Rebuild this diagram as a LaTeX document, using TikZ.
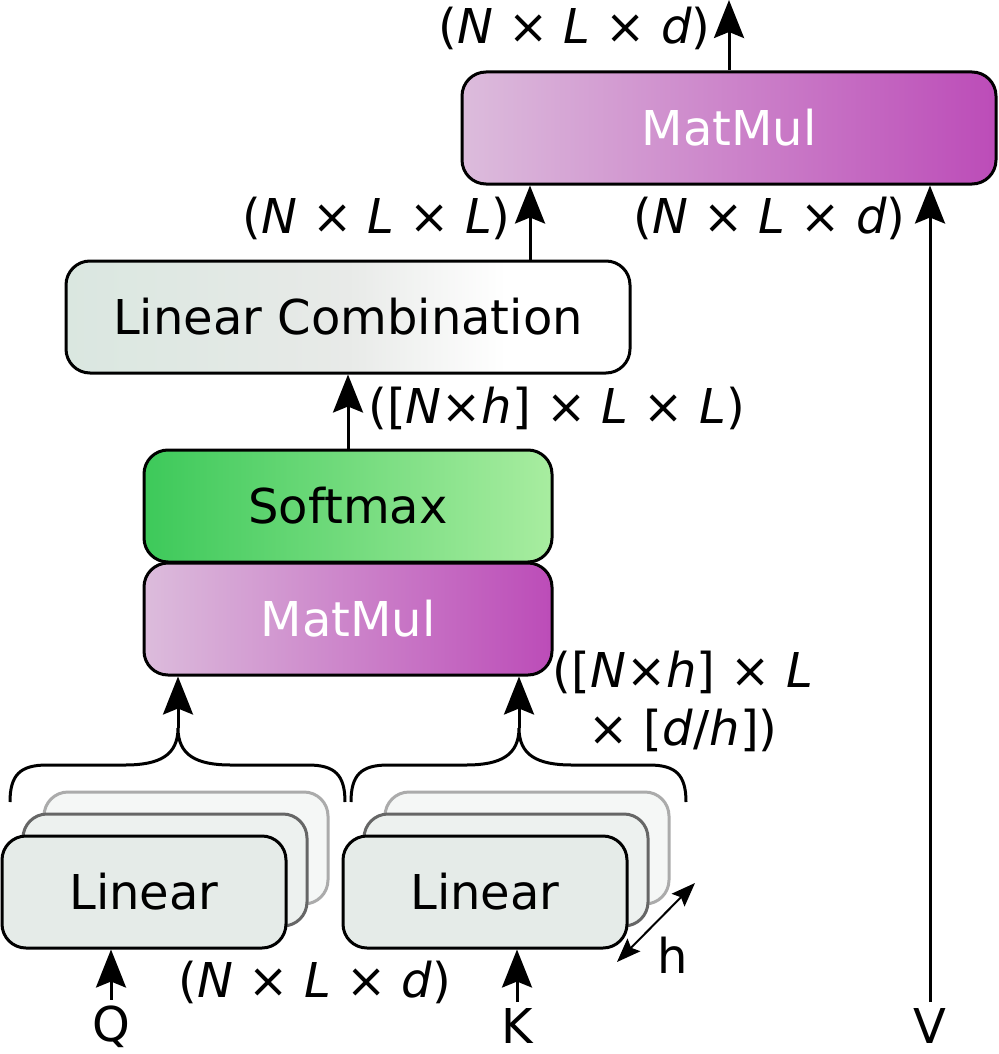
\documentclass[tikz,border=0pt]{standalone}
\usepackage{fontspec}
\setmainfont{DejaVu Sans}
\usepackage{tikz}
\usetikzlibrary{positioning,arrows.meta}
\definecolor{mmleft}{RGB}{220,188,220}
\definecolor{mmright}{RGB}{188,76,184}
\definecolor{smleft}{RGB}{61,201,90}
\definecolor{smright}{RGB}{168,237,160}
\definecolor{lcleft}{RGB}{218,231,224}
\definecolor{lcmid}{RGB}{232,234,232}
\definecolor{linfill}{RGB}{229,235,232}
\pgfdeclarehorizontalshading{lcshade}{100bp}{color(0bp)=(lcleft); color(25bp)=(lcleft); color(50bp)=(lcmid); color(64bp)=(white); color(100bp)=(white)}

\begin{document}
\begin{tikzpicture}[x=0.5pt, y=-0.5pt, font=\fontsize{24}{29}\selectfont,
  box/.style={draw, line width=1.5pt, rounded corners=12pt, minimum height=56pt, inner sep=0pt},
  linbox/.style={box, minimum width=142pt, fill=linfill},
  arr/.style={line width=1.5pt, -{Stealth[length=19pt,width=15pt,inset=3pt]}},
  lbl/.style={inner sep=0pt},
  letter/.style={inner sep=3pt}]
\useasboundingbox (0,0) rectangle (998,1054);

\node[box, minimum width=267pt, left color=mmleft, right color=mmright, text=white] (mmtop) at (729,128) {MatMul};
\node[box, minimum width=282pt, shading=lcshade] (lc) at (348,317) {Linear Combination};
\node[box, minimum width=204pt, left color=smleft, right color=smright] (soft) at (348,506) {Softmax};
\node[box, minimum width=204pt, left color=mmleft, right color=mmright, text=white] (mmlow) at (348,619) {MatMul};

\node[linbox, draw=black!33, fill=linfill!40] (linQc) at (186,848) {};
\node[linbox, draw=black!60, fill=linfill!70] (linQb) at (165,870) {};
\node[linbox] (linQ) at (144,892) {Linear};
\node[linbox, draw=black!33, fill=linfill!40] (linKc) at (527,848) {};
\node[linbox, draw=black!60, fill=linfill!70] (linKb) at (506,870) {};
\node[linbox] (linK) at (485,892) {Linear};

\coordinate (out) at (729,0);
\coordinate (qtip) at (178,728);
\coordinate (ktip) at (519,728);
\coordinate (h1) at (617,962);
\coordinate (h2) at (695,883);

\node[letter] (q) at (111,1027) {Q};
\node[letter] (k) at (517,1026) {K};
\node[letter] (v) at (930,1026) {V};
\node[lbl] (hlbl) at (673,955) {h};

\draw[arr] (mmtop) -- (out);
\draw[arr] ([xshift=91pt]lc.north) -- ([xshift=91pt]lc.north |- mmtop.south);
\draw[arr] (soft) -- (lc);
\draw[arr] (v) -- (v |- mmtop.south);
\draw[arr] (qtip) -- (qtip |- mmlow.south);
\draw[arr] (ktip) -- (ktip |- mmlow.south);
\draw[arr] (q) -- (q |- linQ.south);
\draw[arr] (k) -- (k |- linK.south);
\draw[line width=1pt, {Stealth[length=12pt,width=9pt,inset=2pt]}-{Stealth[length=12pt,width=9pt,inset=2pt]}] (h1) -- (h2);

\draw[line width=1.5pt] (10,802) .. controls (10,775) and (20,765) .. (47,765) -- (125,765) .. controls (160,765) and (178,755) .. (qtip)
  .. controls (178,755) and (196,765) .. (231,765) -- (308,765) .. controls (335,765) and (345,775) .. (345,802);
\draw[line width=1.5pt] (351,802) .. controls (351,775) and (361,765) .. (388,765) -- (466,765) .. controls (501,765) and (519,755) .. (ktip)
  .. controls (519,755) and (537,765) .. (572,765) -- (649,765) .. controls (676,765) and (686,775) .. (686,802);

\node[lbl, anchor=east] (outdim) at (711,28) {(\textit{N} × \textit{L} × \textit{d})};
\node[lbl, anchor=east] (lcdim) at (511,218) {(\textit{N} × \textit{L} × \textit{L})};
\node[lbl, anchor=east] (vdim) at (906,218) {(\textit{N} × \textit{L} × \textit{d})};
\node[lbl, anchor=west] (softdim) at (368,408) {([\textit{N}×\textit{h}] × \textit{L} × \textit{L})};
\node[lbl, align=center] (headdim) at (683,701) {([\textit{N}×\textit{h}] × \textit{L}\\× [\textit{d}/\textit{h}])};
\node[lbl] (indim) at (315,982) {(\textit{N} × \textit{L} × \textit{d})};
\end{tikzpicture}
\end{document}
